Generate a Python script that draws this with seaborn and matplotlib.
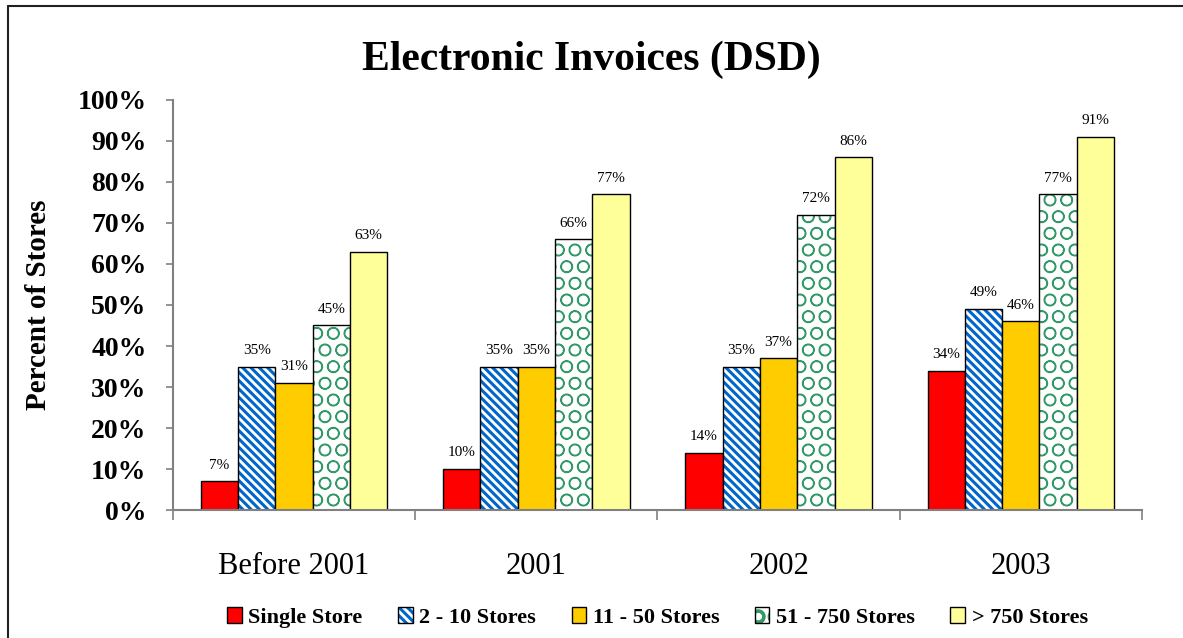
import numpy as np
import pandas as pd
import matplotlib
matplotlib.use("Agg")
import matplotlib.pyplot as plt
from matplotlib.colors import to_rgba
from matplotlib.lines import Line2D
import seaborn as sns

# Survey data: share of stores receiving electronic invoices (DSD)
periods = ["Before 2001", "2001", "2002", "2003"]
store_groups = ["Single Store", "2 - 10 Stores", "11 - 50 Stores",
                "51 - 750 Stores", "> 750 Stores"]
single_store = [7, 10, 14, 34]
stores_2_10 = [35, 35, 35, 49]
stores_11_50 = [31, 35, 37, 46]
stores_51_750 = [45, 66, 72, 77]
stores_750_plus = [63, 77, 86, 91]
y_ticks = [0, 10, 20, 30, 40, 50, 60, 70, 80, 90, 100]

series = [single_store, stores_2_10, stores_11_50, stores_51_750, stores_750_plus]
df = pd.DataFrame({
    "period": [p for s in series for p in periods],
    "group": [g for g, s in zip(store_groups, series) for _ in periods],
    "value": [v for s in series for v in s],
})

sns.set_theme(style="white")
plt.rcParams["font.family"] = ["Liberation Serif", "DejaVu Serif"]
plt.rcParams["text.color"] = "black"
plt.rcParams["axes.labelcolor"] = "black"
plt.rcParams["xtick.labelcolor"] = "black"
plt.rcParams["ytick.labelcolor"] = "black"
plt.rcParams["hatch.linewidth"] = 2.2

face_colors = ["#FF0000", "#FFFFFF", "#FFCC00", "#FFFFFF", "#FFFF99"]
hatch_styles = [None, "\\\\\\\\", None, "O", None]
hatch_colors = [None, "#0066CC", None, "#339966", None]
axis_gray = "#808080"

fig = plt.figure(figsize=(11.83, 6.38), dpi=100)
ax = fig.add_axes([0.1462, 0.2006, 0.8191, 0.6427])

sns.barplot(data=df, x="period", y="value", hue="group", order=periods,
            hue_order=store_groups, palette=face_colors, saturation=1,
            width=0.77, edgecolor="black", linewidth=1.0, legend=False, ax=ax)

for cont, hatch, hcol in zip(ax.containers, hatch_styles, hatch_colors):
    for bar in cont.patches:
        if hatch:
            bar.set_hatch(hatch)
            bar._hatch_color = to_rgba(hcol)
            if hatch == "O":
                bar._hatch_linewidth = 1.0
            bar.stale = True
    ax.bar_label(cont, labels=[f"{v:.0f}%" for v in cont.datavalues],
                 padding=7, fontsize=11, color="black")

ax.set_ylim(0, 100)
ax.set_xlim(-0.5, len(periods) - 0.5)
ax.set_yticks(y_ticks)
ax.set_yticklabels([f"{t}%" for t in y_ticks], fontsize=20, fontweight="bold")
ax.tick_params(axis="y", direction="out", length=5, width=1.2, color=axis_gray,
               pad=14, left=True)
ax.set_xticks(range(len(periods)))
ax.set_xticklabels(periods, fontsize=22)
ax.tick_params(axis="x", which="major", length=0, pad=30)
ax.set_xticks(np.arange(-0.5, len(periods)), minor=True)
ax.tick_params(axis="x", which="minor", direction="out", length=7, width=1.2,
               color=axis_gray, bottom=True)

for side in ["top", "right"]:
    ax.spines[side].set_visible(False)
for side in ["left", "bottom"]:
    ax.spines[side].set_color(axis_gray)
    ax.spines[side].set_linewidth(1.5)

ax.set_xlabel("")
ax.set_ylabel("Percent of Stores", fontsize=21, fontweight="bold")
ax.yaxis.set_label_coords(-0.125, 0.5)

fig.text(0.4996, 1 - 70 / 638, "Electronic Invoices (DSD)", ha="center",
         va="baseline", fontsize=30, fontweight="bold")

handles = [c.patches[0] for c in ax.containers]
ax.legend(handles, store_groups, loc="center", bbox_to_anchor=(0.5, -0.262),
          ncol=5, frameon=False, prop={"weight": "bold", "size": 16},
          handlelength=0.65, handleheight=0.75, handletextpad=0.3,
          columnspacing=1.6)

# Outer frame along the top and left edges
fig.add_artist(Line2D([8 / 1183, 8 / 1183], [0, 1 - 6 / 638],
                      transform=fig.transFigure, color="#202020", lw=1.5))
fig.add_artist(Line2D([8 / 1183, 1], [1 - 6 / 638, 1 - 6 / 638],
                      transform=fig.transFigure, color="#202020", lw=1.5))

fig.savefig("out.png", dpi=100, facecolor="white")
